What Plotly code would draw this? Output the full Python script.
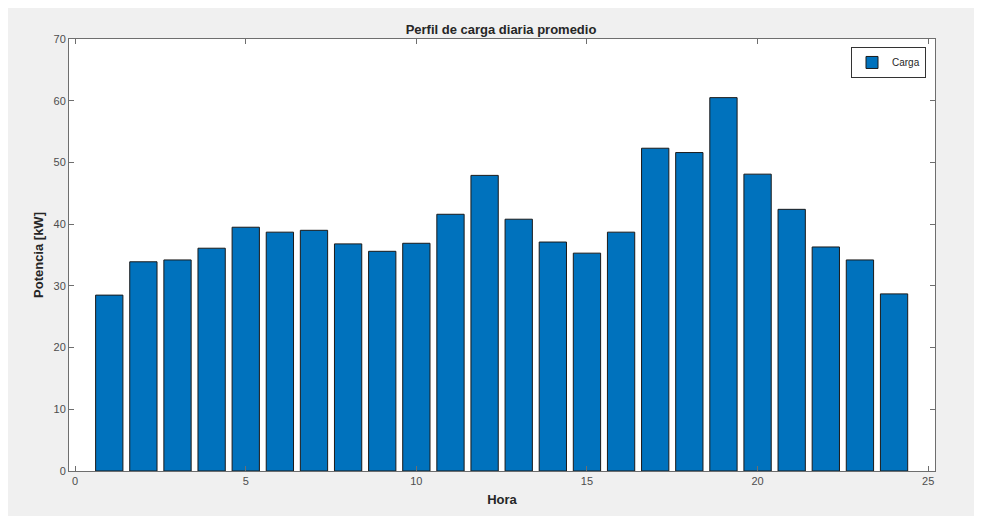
import plotly.graph_objects as go

hours = list(range(1, 25))
load_kw = [28.5, 33.9, 34.2, 36.1, 39.5, 38.7, 39.0, 36.8, 35.6, 36.9, 41.6, 47.9,
           40.8, 37.1, 35.3, 38.7, 52.3, 51.6, 60.5, 48.1, 42.4, 36.3, 34.2, 28.7]
x_ticks = [0, 5, 10, 15, 20, 25]
y_ticks = [0, 10, 20, 30, 40, 50, 60, 70]

# page has default 8px body margin -> figure offset by 8px
OFF = 8
W, H = 982 - OFF, 516 - OFF
ML, MR, MT, MB = 69 - OFF, 47, 39 - OFF, 43
pw, ph = W - ML - MR, H - MT - MB

def px_to_paper_x(px):
    return (px - OFF - ML) / pw

def px_to_paper_y(py):
    return (H - MB - (py - OFF)) / ph

fig = go.Figure()
fig.add_trace(go.Bar(
    x=hours, y=load_kw, name="Carga", width=0.8,
    marker=dict(color="#0072BD", line=dict(color="#1a1a1a", width=1)),
    showlegend=True,
))

axis_common = dict(
    showline=True, linecolor="#6e6e6e", linewidth=1, mirror="ticks",
    ticks="inside", ticklen=5, tickcolor="#6e6e6e", tickwidth=1,
    showgrid=False, zeroline=False,
    tickfont=dict(family="Liberation Sans, Arial, sans-serif", size=11, color="#4d4d4d"),
)

fig.update_layout(
    width=W, height=H,
    margin=dict(l=ML, r=MR, t=MT, b=MB),
    paper_bgcolor="#f0f0f0", plot_bgcolor="white",
    font=dict(family="Liberation Sans, Arial, sans-serif"),
    title=dict(text="<b>Perfil de carga diaria promedio</b>",
               x=px_to_paper_x(501), xref="paper", xanchor="center",
               y=1 - (29 - OFF) / H, yanchor="middle",
               font=dict(size=13, color="#262626")),
    xaxis=dict(range=[-0.18, 25.2], tickvals=x_ticks,
               title=dict(text="<b>Hora</b>", font=dict(size=13, color="#262626"), standoff=8),
               **axis_common),
    yaxis=dict(range=[0, 70], tickvals=y_ticks,
               title=dict(text="<b>Potencia [kW]</b>", font=dict(size=13, color="#262626"), standoff=6),
               **axis_common),
    legend=dict(x=px_to_paper_x(926), xanchor="right", y=px_to_paper_y(47), yanchor="top",
                bgcolor="white", bordercolor="#333333", borderwidth=1,
                font=dict(size=10, color="#262626"),
                itemwidth=30, tracegroupgap=0),
    bargap=0.2,
)

fig.write_html("out.html")
